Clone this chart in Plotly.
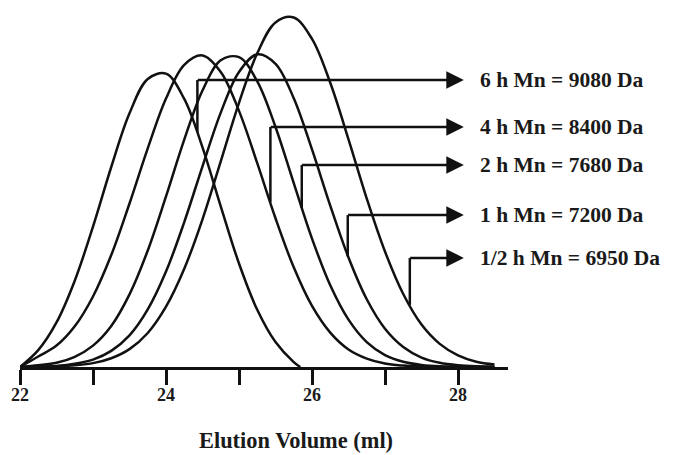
import plotly.graph_objects as go

# Elution volume grid (ml) shared by the 4 h, 2 h, 1 h and 1/2 h traces
volume = [22.0, 22.25, 22.5, 22.75, 23.0, 23.25, 23.5, 23.75, 24.0, 24.25, 24.5, 24.75,
          25.0, 25.25, 25.5, 25.75, 26.0, 26.25, 26.5, 26.75, 27.0, 27.25, 27.5, 27.75,
          28.0, 28.25, 28.5]

# 6 h trace (ends on the baseline just before 26 ml)
volume_6h = [22.0, 22.25, 22.5, 22.75, 23.0, 23.25, 23.5, 23.75, 24.0, 24.25, 24.5,
             24.75, 25.0, 25.25, 25.5, 25.75, 25.84]
signal_6h = [0, 4.8, 12.7, 24.6, 40.0, 57.0, 72.3, 82.1, 83.6, 76.4, 62.6,
             45.8, 29.5, 16.3, 7.1, 1.4, 0]

signal_4h = [0, 3.0, 6.1, 11.6, 20.1, 31.9, 46.6, 62.3, 76.5, 86.1, 88.8, 84.1,
             73.0, 58.1, 42.4, 28.4, 17.4, 9.8, 5.0, 2.4, 1.0, 0.4, 0.1, 0, 0, 0, 0]
signal_2h = [0, 0.5, 1.2, 2.9, 6.1, 11.7, 20.7, 33.2, 48.6, 64.8, 78.8, 87.4,
             88.3, 81.4, 68.4, 52.4, 36.6, 23.3, 13.5, 7.1, 3.4, 1.5, 0.6, 0.2, 0.1, 0, 0]
signal_1h = [0, 0.1, 0.3, 0.9, 2.1, 4.6, 9.0, 16.4, 27.2, 41.3, 57.2, 72.5,
             84.1, 89.1, 86.4, 76.6, 62.0, 46.0, 31.2, 19.3, 10.9, 5.7, 2.7, 1.2, 0.5, 0.2, 0.1]
signal_half = [0, 0.1, 0.2, 0.5, 1.1, 2.5, 5.1, 9.7, 17.2, 28.0, 42.1, 58.6,
               75.3, 89.4, 98.2, 99.6, 93.5, 81.0, 64.9, 48.0, 32.9, 20.8, 12.1, 6.6, 3.3, 1.5, 0.7]

# Callouts
labels = ["6 h Mn = 9080 Da", "4 h Mn = 8400 Da", "2 h Mn = 7680 Da",
          "1 h Mn = 7200 Da", "1/2 h Mn = 6950 Da"]
pointer_volume = [24.43, 25.43, 25.86, 26.49, 27.34]
pointer_signal = [67.0, 47.0, 45.3, 31.5, 17.7]
label_level = [81.8, 68.4, 57.6, 43.3, 31.1]
arrow_tip = 28.08
label_volume = 28.28

tick_values = [22, 23, 24, 25, 26, 27, 28]
tick_text = ["22", "", "24", "", "26", "", "28"]

LINE = "#111111"
FONT = "Liberation Serif"

fig = go.Figure()

series = [(volume_6h, signal_6h), (volume, signal_4h), (volume, signal_2h),
          (volume, signal_1h), (volume, signal_half)]
for xs, ys in series:
    fig.add_trace(go.Scatter(x=xs, y=ys, mode="lines",
                             line=dict(color=LINE, width=2.5, shape="spline", smoothing=1.0),
                             hoverinfo="skip", showlegend=False))

for pv, ps, lv, txt in zip(pointer_volume, pointer_signal, label_level, labels):
    fig.add_trace(go.Scatter(x=[pv, pv], y=[ps, lv], mode="lines",
                             line=dict(color=LINE, width=2.5),
                             hoverinfo="skip", showlegend=False))
    fig.add_annotation(x=arrow_tip, y=lv, ax=pv - 0.016, ay=lv, xref="x", yref="y",
                       axref="x", ayref="y", text="", showarrow=True,
                       arrowhead=2, arrowsize=1.4, arrowwidth=2.5, arrowcolor=LINE,
                       standoff=0, startstandoff=0)
    fig.add_annotation(x=label_volume, y=lv, xref="x", yref="y", text=txt,
                       showarrow=False, xanchor="left", yanchor="middle",
                       font=dict(family=FONT, size=21.5, color="#1a1a1a", weight="bold"))

fig.add_annotation(x=0.566, y=-0.203, xref="paper", yref="paper",
                   text="Elution Volume (ml)", showarrow=False,
                   xanchor="center", yanchor="middle",
                   font=dict(family=FONT, size=22.4, color="#1a1a1a", weight="bold"))

fig.update_xaxes(range=[22, 28.685], showgrid=False, zeroline=False,
                 showline=True, linecolor=LINE, linewidth=2.5,
                 ticks="outside", ticklen=15, tickwidth=2.5, tickcolor=LINE,
                 tickmode="array", tickvals=tick_values, ticktext=tick_text,
                 ticklabelstandoff=-5,
                 tickfont=dict(family=FONT, size=18, color="#1a1a1a", weight="bold"))
fig.update_yaxes(range=[0, 102.6], visible=False)

fig.update_layout(width=674, height=455, margin=dict(l=20, r=166, t=7, b=88),
                  paper_bgcolor="white", plot_bgcolor="white")

fig.write_html("out.html")
